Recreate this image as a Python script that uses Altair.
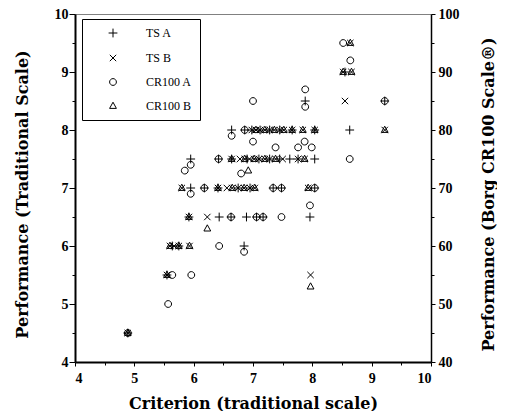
import altair as alt
import pandas as pd

series_names = ["TS A", "TS B", "CR100 A", "CR100 B"]

# TS A (+), traditional scale
ts_a_x = [4.89, 5.55, 5.64, 5.75, 6.85,
          5.92, 6.43, 6.63, 6.89, 7.06, 7.17, 7.96,
          5.95, 6.18, 6.41, 6.75, 6.95, 7.34, 7.48, 8.04,
          5.95, 6.42, 6.64, 6.90, 7.10, 7.28, 7.45, 7.62, 7.76, 8.04,
          6.64, 6.86, 6.98, 7.12, 7.28, 7.45, 7.66, 8.04, 8.63,
          7.88, 9.22, 8.55]
ts_a_y = [4.5, 5.5, 6.0, 6.0, 6.0,
          6.5, 6.5, 6.5, 6.5, 6.5, 6.5, 6.5,
          7.0, 7.0, 7.0, 7.0, 7.0, 7.0, 7.0, 7.0,
          7.5, 7.5, 7.5, 7.5, 7.5, 7.5, 7.5, 7.5, 7.5, 7.5,
          8.0, 8.0, 8.0, 8.0, 8.0, 8.0, 8.0, 8.0, 8.0,
          8.5, 8.5, 9.0]

# TS B (x), traditional scale
ts_b_x = [4.89, 5.55, 7.97,
          5.60, 5.67, 5.75, 5.93,
          5.92, 6.23,
          5.80, 6.41, 6.56, 6.65, 6.75, 6.85, 6.95, 7.03, 7.93,
          6.64, 6.78, 6.86, 6.94, 7.02, 7.10, 7.20, 7.28, 7.38, 7.50, 7.76, 7.87,
          6.98, 7.05, 7.12, 7.20, 7.28, 7.36, 7.45, 7.52, 7.66, 7.84, 8.04, 9.22,
          8.55, 8.52, 8.66, 8.64]
ts_b_y = [4.5, 5.5, 5.5,
          6.0, 6.0, 6.0, 6.0,
          6.5, 6.5,
          7.0, 7.0, 7.0, 7.0, 7.0, 7.0, 7.0, 7.0, 7.0,
          7.5, 7.5, 7.5, 7.5, 7.5, 7.5, 7.5, 7.5, 7.5, 7.5, 7.5, 7.5,
          8.0, 8.0, 8.0, 8.0, 8.0, 8.0, 8.0, 8.0, 8.0, 8.0, 8.0, 8.0,
          8.5, 9.0, 9.0, 9.5]

# CR100 A (o), Borg CR100 scale
cr_a_x = [4.89, 5.57, 5.64, 5.96, 6.43, 6.85, 6.63, 7.06, 7.17, 7.48, 7.96,
          5.95, 6.18, 7.34, 7.48, 8.04, 6.80, 5.85, 5.95, 6.42, 8.63,
          7.38, 7.76, 7.99, 7.87, 7.00, 6.64, 6.86, 7.88, 7.00, 9.22, 7.88, 8.64, 8.52]
cr_a_y = [45, 50, 55, 55, 60, 59, 65, 65, 65, 65, 67,
          69, 70, 70, 70, 70, 72.5, 73, 74, 75, 75,
          77, 77, 77, 78, 78, 79, 80, 84, 85, 85, 87, 92, 95]

# CR100 B (triangle), Borg CR100 scale
cr_b_x = [4.89, 5.55, 7.97, 5.60, 5.75, 5.93, 6.23, 5.92,
          5.80, 6.41, 6.65, 6.85, 7.03, 7.93, 6.92,
          6.64, 6.86, 7.02, 7.20, 7.38, 7.87,
          7.05, 7.20, 7.36, 7.52, 7.66, 7.84, 8.04, 9.22,
          8.52, 8.66, 8.64]
cr_b_y = [45, 55, 53, 60, 60, 60, 63, 65,
          70, 70, 70, 70, 70, 70, 73,
          75, 75, 75, 75, 75, 75,
          80, 80, 80, 80, 80, 80, 80, 80,
          90, 90, 95]

df_ts = pd.concat([
    pd.DataFrame({"x": ts_a_x, "y": ts_a_y, "series": "TS A"}),
    pd.DataFrame({"x": ts_b_x, "y": ts_b_y, "series": "TS B"}),
])
df_cr = pd.concat([
    pd.DataFrame({"x": cr_a_x, "y": cr_a_y, "series": "CR100 A"}),
    pd.DataFrame({"x": cr_b_x, "y": cr_b_y, "series": "CR100 B"}),
])

shape_scale = alt.Scale(
    domain=series_names,
    range=[
        "M-1.1,0L1.1,0M0,-1.1L0,1.1",
        "M-0.8,-0.8L0.8,0.8M-0.8,0.8L0.8,-0.8",
        "M0.85,0A0.85,0.85,0,1,1,-0.85,0A0.85,0.85,0,1,1,0.85,0Z",
        "M0,-0.95L0.85,0.6L-0.85,0.6Z",
    ],
)

label_font = "Liberation Serif"
title_font = "DejaVu Serif"

x_axis = alt.Axis(
    title="Criterion (traditional scale)",
    values=[4, 4.5, 5, 5.5, 6, 6.5, 7, 7.5, 8, 8.5, 9, 9.5, 10],
    labelExpr="datum.value % 1 === 0 ? format(datum.value, 'd') : ''",
    tickSize={"condition": {"test": "datum.value % 1 === 0", "value": 4}, "value": 3},
    labelPadding=5,
    labelFont=label_font, labelFontSize=14, labelFontWeight="bold", labelColor="black",
    titleFont=title_font, titleFontSize=16, titleFontWeight="bold", titleColor="black",
    titleY=46, titleBaseline="alphabetic",
    domainColor="black", domainWidth=2, tickColor="black", tickWidth=1,
    grid=False,
)
y_axis_left = alt.Axis(
    title="Performance (Traditional Scale)",
    values=[4, 4.5, 5, 5.5, 6, 6.5, 7, 7.5, 8, 8.5, 9, 9.5, 10],
    labelExpr="datum.value % 1 === 0 ? format(datum.value, 'd') : ''",
    tickSize={"condition": {"test": "datum.value % 1 === 0", "value": 6}, "value": 3},
    labelPadding=1,
    labelFont=label_font, labelFontSize=14, labelFontWeight="bold", labelColor="black",
    titleFont=title_font, titleFontSize=16, titleFontWeight="bold", titleColor="black",
    titleX=-53, titleY=180, titleAngle=270, titleBaseline="middle",
    domainColor="black", domainWidth=2, tickColor="black", tickWidth=1,
    grid=False,
)
y_axis_right = alt.Axis(
    title="Performance (Borg CR100 Scale®)",
    orient="right",
    values=[40, 45, 50, 55, 60, 65, 70, 75, 80, 85, 90, 95, 100],
    labelExpr="datum.value % 10 === 0 ? format(datum.value, 'd') : ''",
    tickSize={"condition": {"test": "datum.value % 10 === 0", "value": 4}, "value": 3},
    labelPadding=3,
    labelFont=label_font, labelFontSize=14, labelFontWeight="bold", labelColor="black",
    titleFont=title_font, titleFontSize=16, titleFontWeight="bold", titleColor="black",
    titleX=57, titleY=180, titleAngle=270, titleBaseline="middle",
    domainColor="black", domainWidth=1.5, tickColor="black", tickWidth=1,
    grid=False,
)

legend = alt.Legend(
    title=None, orient="none", legendX=7, legendY=5,
    strokeColor="black", fillColor="white", padding=8, cornerRadius=0,
    labelFont=label_font, labelFontSize=12, labelFontWeight="normal", labelColor="black",
    symbolStrokeColor="black", symbolStrokeWidth=1, symbolFillColor="transparent",
    symbolSize=64, symbolOffset=17, labelOffset=27, rowPadding=12,
)

x_enc = alt.X("x:Q", scale=alt.Scale(domain=[4, 10], nice=False, zero=False), axis=x_axis)

ts_layer = alt.Chart(df_ts).mark_point(filled=False, strokeWidth=1, opacity=1, size=64).encode(
    x=x_enc,
    y=alt.Y("y:Q", scale=alt.Scale(domain=[4, 10], nice=False, zero=False), axis=y_axis_left),
    shape=alt.Shape("series:N", scale=shape_scale, legend=legend),
    color=alt.value("black"),
)
cr_layer = alt.Chart(df_cr).mark_point(filled=False, strokeWidth=1, opacity=1, size=64).encode(
    x=x_enc,
    y=alt.Y("y:Q", scale=alt.Scale(domain=[40, 100], nice=False, zero=False), axis=y_axis_right),
    shape=alt.Shape("series:N", scale=shape_scale, legend=legend),
    color=alt.value("black"),
)

chart = alt.layer(ts_layer, cr_layer).resolve_scale(y="independent").properties(
    width=356, height=348,
    autosize=alt.AutoSizeParams(type="none"),
    padding={"left": 67, "top": 6, "right": 66, "bottom": 49},
    background="white",
).configure_view(stroke="#808080", strokeWidth=1)

chart.save("out.html", embed_options={"renderer": "svg", "actions": False})
